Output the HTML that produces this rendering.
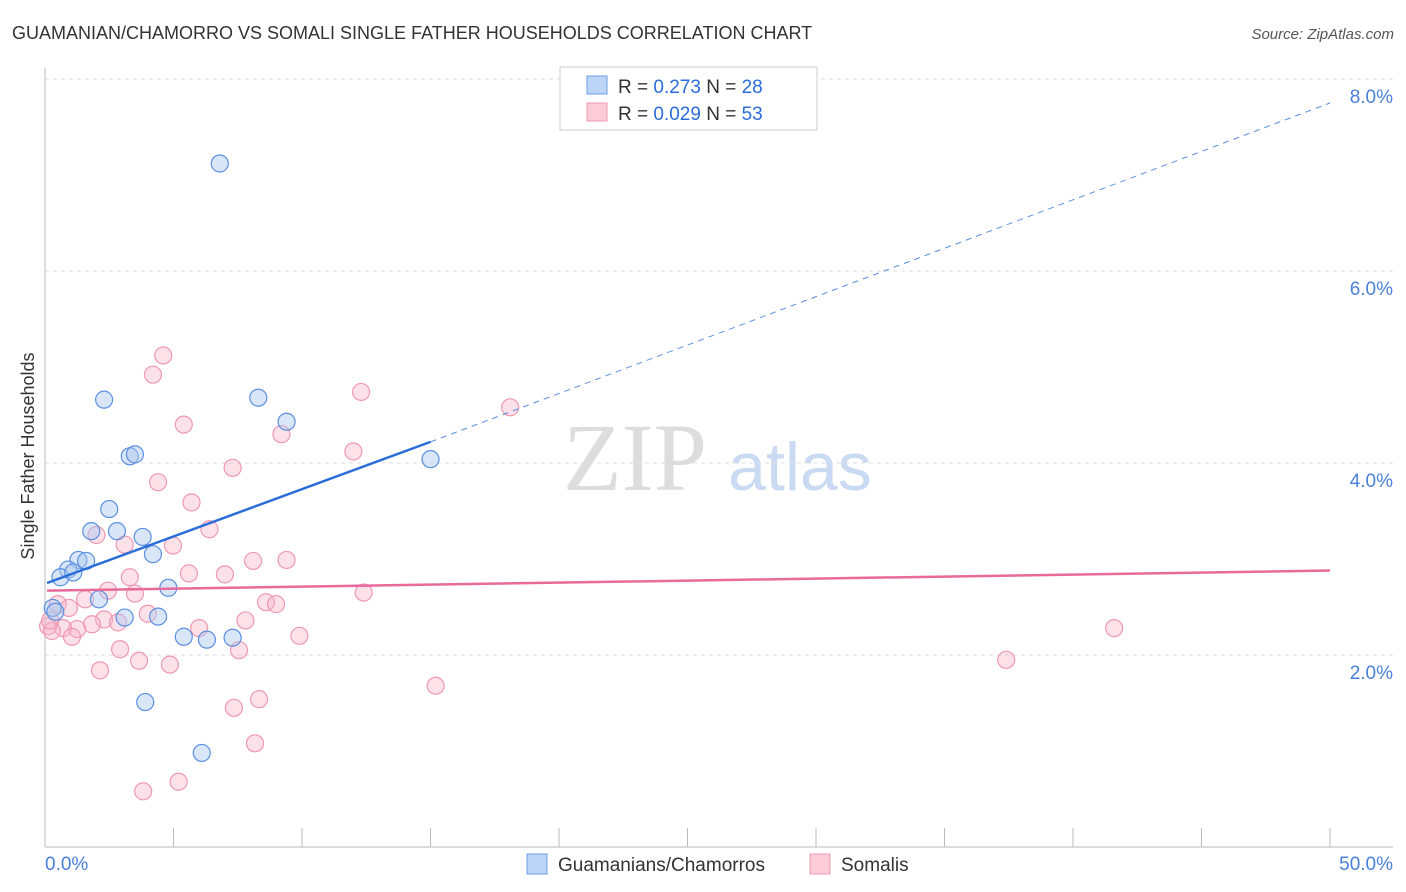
<!DOCTYPE html>
<html><head><meta charset="utf-8"><style>
body{margin:0;background:#fff;font-family:"Liberation Sans",sans-serif;}
svg{display:block}
</style></head><body>
<svg id="c" width="1406" height="892" xmlns="http://www.w3.org/2000/svg">
<text x="12" y="39" font-size="18" fill="#333">GUAMANIAN/CHAMORRO VS SOMALI SINGLE FATHER HOUSEHOLDS CORRELATION CHART</text>
<text x="1394" y="39" font-size="15" fill="#555" font-style="italic" text-anchor="end">Source: ZipAtlas.com</text>
<text x="635" y="490" font-size="96" fill="#ddd" text-anchor="middle" font-family="Liberation Serif,serif">ZIP</text>
<text x="800" y="490" font-size="68" fill="#c9daf2" text-anchor="middle">atlas</text>
<text transform="translate(34,456) rotate(-90)" font-size="18" fill="#333" text-anchor="middle">Single Father Households</text>
<g id="grid"></g><g id="marks"></g>
<g>
<rect x="560" y="67" width="257" height="63" fill="#fff" stroke="#ccc"/>
<rect x="587" y="76" width="20" height="18" fill="#bcd4f5" stroke="#6d9ee6"/>
<rect x="587" y="103" width="20" height="18" fill="#fbcbd9" stroke="#ee9ab3"/>
<text x="618" y="93" font-size="19" fill="#333">R = <tspan fill="#2a6dd9">0.273</tspan>   N = <tspan fill="#2a6dd9">28</tspan></text>
<text x="618" y="120" font-size="19" fill="#333">R = <tspan fill="#2a6dd9">0.029</tspan>   N = <tspan fill="#2a6dd9">53</tspan></text>
</g>
<g>
<rect x="527" y="854" width="20" height="20" fill="#bcd4f5" stroke="#6d9ee6"/>
<text x="558" y="871" font-size="19" fill="#333">Guamanians/Chamorros</text>
<rect x="810" y="854" width="20" height="20" fill="#fbcbd9" stroke="#ee9ab3"/>
<text x="841" y="871" font-size="19" fill="#333">Somalis</text>
</g>
</svg>
<script>
const yTicks=[2,4,6,8];
const xTickLabels=["0.0%","50.0%"];
const blueX=[6.8,2.3,8.3,9.4,3.3,3.5,15.0,2.5,1.8,2.8,3.8,4.2,1.3,1.6,0.9,0.6,1.1,4.8,2.1,0.3,0.4,3.1,4.4,5.4,6.3,7.3,3.9,6.1];
const blueY=[7.12,4.66,4.68,4.43,4.07,4.09,4.04,3.52,3.29,3.29,3.23,3.05,2.99,2.98,2.89,2.81,2.86,2.70,2.58,2.49,2.45,2.39,2.40,2.19,2.16,2.18,1.51,0.98];
const pinkX=[4.6,4.2,12.3,18.1,5.4,9.2,12.0,7.3,4.4,5.7,2.0,6.4,3.1,4.98,8.1,9.4,5.6,3.3,7.0,0.5,2.45,3.5,8.6,8.99,12.4,1.56,0.93,4.0,7.8,2.3,2.84,1.83,1.25,0.7,6.0,0.12,0.27,1.05,9.9,7.55,2.92,3.66,4.86,2.14,41.6,37.4,15.2,8.33,7.35,8.17,5.2,3.82,0.2];
const pinkY=[5.12,4.92,4.74,4.58,4.40,4.30,4.12,3.95,3.80,3.59,3.25,3.31,3.15,3.14,2.98,2.99,2.85,2.81,2.84,2.53,2.67,2.64,2.55,2.53,2.65,2.58,2.49,2.43,2.36,2.37,2.34,2.32,2.27,2.28,2.28,2.30,2.25,2.19,2.20,2.05,2.06,1.94,1.90,1.84,2.28,1.95,1.68,1.54,1.45,1.08,0.68,0.58,2.36];
const blueLine=[0.08,2.75,15.0,4.22,50,7.75];
const pinkLine=[0.08,2.67,50,2.88];
const NS="http://www.w3.org/2000/svg";
const X=v=>45+v/50*1285, Y=v=>847-v*96;
function mk(p,t,a){const e=document.createElementNS(NS,t);for(const k in a)e.setAttribute(k,a[k]);p.appendChild(e);return e;}
const g=document.getElementById('grid'), m=document.getElementById('marks');
let e=mk(g,'line',{x1:45,x2:45,y1:68,y2:847,stroke:'#bbb'});


e=mk(g,'line',{x1:45,x2:1393,y1:847,y2:847,stroke:'#bbb'});


for(const t of yTicks){
 e=mk(g,'line',{x1:45,x2:1393,y1:Y(t),y2:Y(t),stroke:'#ddd','stroke-dasharray':'4,4'});
 
 
 e=mk(g,'text',{x:1393,y:Y(t)+24,'font-size':19,fill:'#4a80d9','text-anchor':'end'});e.textContent=t.toFixed(1)+'%';
 
 
}
for(let i=0;i<=10;i++){
 e=mk(g,'line',{x1:X(i*5),x2:X(i*5),y1:828,y2:847,stroke:'#bbb'});
 
 
}
e=mk(g,'text',{x:45,y:870,'font-size':19,fill:'#4a80d9'});e.textContent=xTickLabels[0];


e=mk(g,'text',{x:1393,y:870,'font-size':19,fill:'#4a80d9','text-anchor':'end'});e.textContent=xTickLabels[1];


for(let i=0;i<pinkX.length;i++){
 e=mk(m,'circle',{cx:X(pinkX[i]),cy:Y(pinkY[i]),r:8.5,fill:'rgba(248,180,200,0.4)',stroke:'#ef98b3','stroke-width':1.2});
 
 
}
for(let i=0;i<blueX.length;i++){
 e=mk(m,'circle',{cx:X(blueX[i]),cy:Y(blueY[i]),r:8.5,fill:'rgba(170,200,240,0.45)',stroke:'#5b8fe0','stroke-width':1.2});
 
 
}
e=mk(m,'line',{x1:X(blueLine[0]),y1:Y(blueLine[1]),x2:X(blueLine[2]),y2:Y(blueLine[3]),stroke:'#2a6dd9','stroke-width':2.5});


e=mk(m,'line',{x1:X(blueLine[2]),y1:Y(blueLine[3]),x2:X(blueLine[4]),y2:Y(blueLine[5]),stroke:'#5b8fe0','stroke-width':1,'stroke-dasharray':'6,5'});


e=mk(m,'line',{x1:X(pinkLine[0]),y1:Y(pinkLine[1]),x2:X(pinkLine[2]),y2:Y(pinkLine[3]),stroke:'#e8699a','stroke-width':2.5});


</script>
</body></html>
